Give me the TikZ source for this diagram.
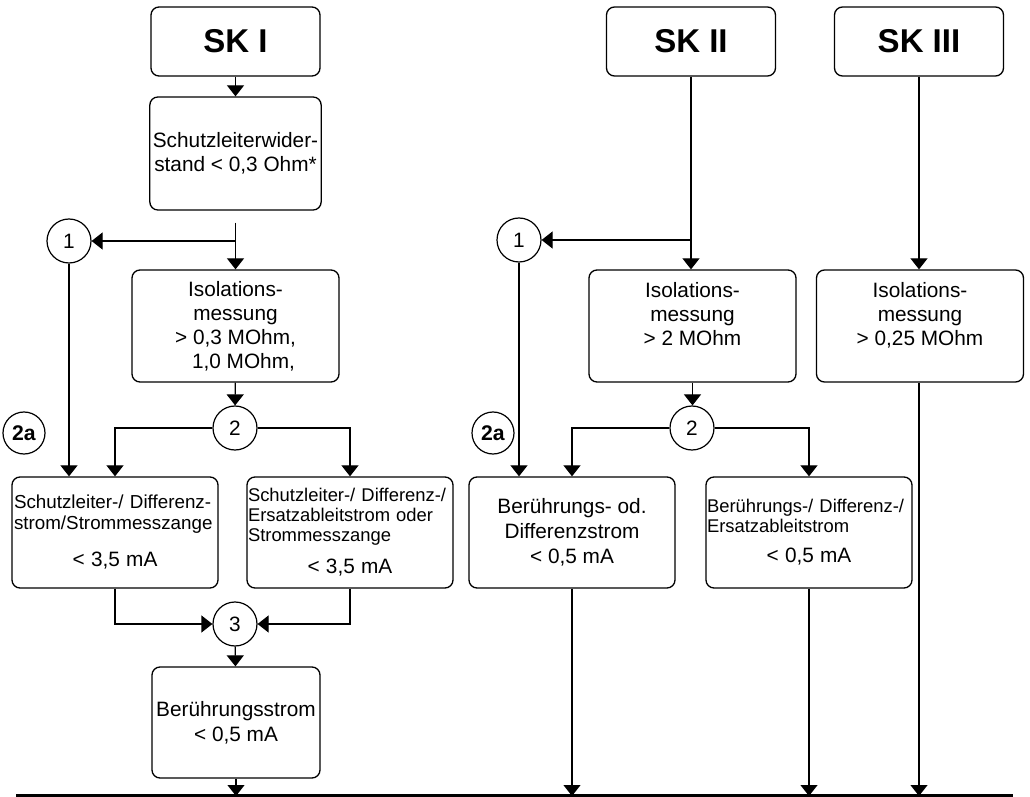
\documentclass[tikz,border=0pt]{standalone}
\usepackage{fontspec}
\setmainfont{Liberation Sans}
\usetikzlibrary{arrows.meta}

\tikzset{
	box/.style={draw, rounded corners=4pt, line width=0.65pt, inner sep=1.5pt, align=center, font=\fontsize{10.4}{12}\selectfont},
	head/.style={box, minimum width=84.5pt, minimum height=34.5pt, font=\fontsize{16.5}{18}\selectfont\bfseries},
	circ/.style={draw, circle, minimum size=22pt, inner sep=0pt, line width=0.6pt, font=\fontsize{10.4}{12}\selectfont},
	badge/.style={circ, minimum size=21pt, font=\fontsize{10.6}{12}\selectfont\bfseries},
	arr/.style={-{Triangle[length=5.5pt,width=8.5pt]}, line width=0.6pt},
}

\begin{document}
\begin{tikzpicture}[x=0.5pt, y=-0.5pt]
	\useasboundingbox (0,0) rectangle (1030,797);
	\node[head] (sk1) at (235.5,41.5) {SK I};
	\node[head] (sk2) at (691,41.5) {SK II};
	\node[head] (sk3) at (919,41.5) {SK III};
	\node[box, minimum width=84.5pt, minimum height=56.5pt] (schutz) at (235.5,153.5) {Schutzleiterwider-\\stand < 0,3 Ohm*};
	\node[box, minimum width=103.5pt, minimum height=56pt] (isoA) at (235.5,326) {Isolations-\\messung\\> 0,3 MOhm,\\\hspace*{8pt}1,0 MOhm,};
	\node[box, minimum width=103.5pt, minimum height=56pt] (isoB) at (692.5,326) {Isolations-\\messung\\> 2 MOhm\\\mbox{}};
	\node[box, minimum width=103.5pt, minimum height=56pt] (isoC) at (920,326) {Isolations-\\messung\\> 0,25 MOhm\\\mbox{}};
	\node[circ] (c1A) at (69,241) {1};
	\node[circ] (c1B) at (519,240) {1};
	\node[circ] (c2A) at (235,428) {2};
	\node[circ] (c2B) at (692,428) {2};
	\node[badge] (bdgA) at (24,433) {2a};
	\node[badge] (bdgB) at (493,433) {2a};
	\node[box, minimum height=55.5pt, text width=101pt, inner sep=1pt, align=left, font=\fontsize{9.4}{10.5}\selectfont] (slA) at (115,532.5) {Schutzleiter-/ Differenz-\\strom/Strommesszange\\[8pt]\makebox[101pt]{\fontsize{10.4}{12}\selectfont < 3,5 mA}};
	\node[box, minimum height=55.5pt, text width=102pt, inner sep=0.5pt, align=left, font=\fontsize{9.2}{10}\selectfont] (slB) at (350,532.5) {Schutzleiter-/ Differenz-/\\Ersatzableitstrom oder\\Strommesszange\\[6pt]\makebox[102pt]{\fontsize{10.4}{12}\selectfont < 3,5 mA}};
	\node[box, minimum width=103pt, minimum height=55.5pt, font=\fontsize{10.4}{12.5}\selectfont] (bdA) at (572,532.5) {Berührungs- od.\\Differenzstrom\\< 0,5 mA};
	\node[box, minimum height=55.5pt, text width=102pt, inner sep=0.5pt, align=left, font=\fontsize{9.2}{10}\selectfont] (bdB) at (809,532.5) {Berührungs-/ Differenz-/\\Ersatzableitstrom\\[5pt]\makebox[102pt]{\fontsize{10.4}{12}\selectfont < 0,5 mA}};
	\node[circ] (c3) at (235,624) {3};
	\node[box, minimum width=84pt, minimum height=55.5pt, font=\fontsize{10.4}{12.5}\selectfont] (beru) at (236,722.5) {Berührungsstrom\\< 0,5 mA};
	\coordinate (baseL) at (16,796);
	\coordinate (baseR) at (1013,796);

	\draw[arr] (sk1) -- (schutz);
	\draw[arr, shorten <=6pt] (schutz.south) -- (isoA.north);
	\draw[arr] (schutz.south |- c1A.east) -- (c1A.east);
	\draw[arr] (isoA) -- (c2A);
	\draw[arr] (c2A.west) -| (slA.north);
	\draw[arr] (c2A.east) -| (slB.north);
	\draw[arr] (c1A.south) -- (c1A.south |- slA.north);
	\draw[arr] (slA.south) |- (c3.west);
	\draw[arr] (slB.south) |- (c3.east);
	\draw[arr] (c3) -- (beru);

	\draw[arr] (sk2.south) -- (sk2.south |- isoB.north);
	\draw[arr] (sk2.south |- c1B.east) -- (c1B.east);
	\draw[arr] (isoB.south) -- (isoB.south |- c2B.north);
	\draw[arr] (c2B.west) -| (bdA.north);
	\draw[arr] (c2B.east) -| (bdB.north);
	\draw[arr] (c1B.south) -- (c1B.south |- bdA.north);
	\draw[arr] (sk3.south) -- (sk3.south |- isoC.north);

	\draw[line width=1.75pt] (baseL) -- (baseR);
	\foreach \n in {beru,bdA,bdB}{
		\draw[arr] (\n.south) -- (\n.south |- baseL);
	}
	\draw[arr] (sk3.south |- isoC.south) -- (sk3.south |- baseL);
\end{tikzpicture}
\end{document}
